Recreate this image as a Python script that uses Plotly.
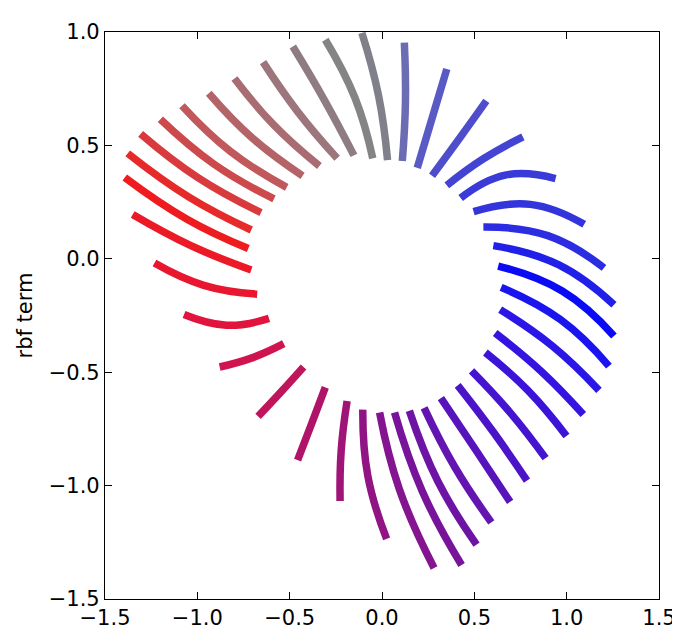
import plotly.graph_objects as go

# Each curved stroke: outer end, middle point, inner end (data units)
outer_x = [-1.072, -1.232, -1.350, -1.393, -1.377, -1.307, -1.200, -1.083, -0.938, -0.799, -0.644, -0.483,
           -0.307, -0.109, 0.121, 0.351, 0.565,
           0.763, 0.940, 1.095, 1.202, 1.256, 1.256, 1.229, 1.175, 1.090, 0.999, 0.886, 0.785, 0.694,
           0.592, 0.512, 0.431, 0.282, 0.025, -0.227, -0.457, -0.671, -0.879]
outer_y = [-0.246, -0.019, 0.195, 0.358, 0.465, 0.551, 0.615, 0.675, 0.730, 0.795, 0.867, 0.936,
           0.966, 0.996, 0.953, 0.837, 0.696,
           0.538, 0.354, 0.152, -0.040, -0.203, -0.340, -0.473, -0.580, -0.687, -0.781, -0.879, -0.978, -1.072,
           -1.162, -1.260, -1.350, -1.363, -1.235, -1.068, -0.888, -0.695, -0.477]
mid_x = [-0.842, -0.965, -1.035, -1.056, -1.045, -0.997, -0.911, -0.820, -0.703, -0.585, -0.457, -0.312,
         -0.146, -0.018, 0.127, 0.271, 0.426,
         0.549, 0.667, 0.804, 0.898, 0.958, 0.976, 0.966, 0.925, 0.863, 0.790, 0.694, 0.603, 0.506,
         0.394, 0.303, 0.218, 0.094, -0.077, -0.221, -0.382, -0.548, -0.708]
mid_y = [-0.293, -0.117, 0.058, 0.174, 0.272, 0.358, 0.418, 0.473, 0.533, 0.589, 0.649, 0.700,
         0.709, 0.717, 0.692, 0.619, 0.538,
         0.441, 0.369, 0.240, 0.102, -0.027, -0.142, -0.268, -0.386, -0.497, -0.580, -0.678, -0.764, -0.841,
         -0.918, -0.982, -1.025, -1.016, -0.956, -0.845, -0.729, -0.588, -0.438]
inner_x = [-0.612, -0.676, -0.708, -0.724, -0.708, -0.655, -0.585, -0.516, -0.430, -0.339, -0.243, -0.152,
           -0.050, 0.030, 0.110, 0.191, 0.271,
           0.351, 0.426, 0.496, 0.549, 0.603, 0.629, 0.645, 0.640, 0.613, 0.560, 0.485, 0.410, 0.319,
           0.228, 0.148, 0.068, -0.013, -0.104, -0.189, -0.307, -0.425, -0.532]
inner_y = [-0.263, -0.156, -0.049, 0.045, 0.127, 0.204, 0.264, 0.315, 0.366, 0.409, 0.443, 0.456,
           0.443, 0.435, 0.431, 0.401, 0.366,
           0.324, 0.268, 0.208, 0.140, 0.058, -0.032, -0.126, -0.224, -0.327, -0.413, -0.494, -0.558, -0.614,
           -0.657, -0.670, -0.678, -0.678, -0.665, -0.627, -0.567, -0.477, -0.374]
colors = ["#e0143c", "#e8162e", "#ec1a26", "#ee1c1e", "#e62a2a", "#d83a3e", "#cc4a4c", "#c0585c",
          "#b46468", "#a86c72", "#9c767c", "#8e7c82",
          "#848484", "#80808a", "#6c6cb4", "#5a5ac4", "#4e4ecc",
          "#4444d4", "#3a3ad8", "#3434dc", "#2c2ce2", "#2020e8", "#0a0af4", "#1a14ee", "#2a16e6",
          "#3414e0", "#3c14d8", "#4414d0", "#4c14c8", "#5814bc", "#6414b0", "#6e14a4", "#78149a",
          "#841490", "#901484", "#a01478", "#b01468", "#c0145c", "#d01450"]

x_ticks = [-1.5, -1.0, -0.5, 0.0, 0.5, 1.0, 1.5]
x_labels = ["\u22121.5", "\u22121.0", "\u22120.5", "0.0", "0.5", "1.0", "1.5"]
y_ticks = [-1.5, -1.0, -0.5, 0.0, 0.5, 1.0]
y_labels = ["\u22121.5", "\u22121.0", "\u22120.5", "0.0", "0.5", "1.0"]

fig = go.Figure()
for i in range(len(colors)):
    fig.add_trace(go.Scatter(
        x=[outer_x[i], mid_x[i], inner_x[i]],
        y=[outer_y[i], mid_y[i], inner_y[i]],
        mode="lines",
        line=dict(color=colors[i], width=7.5, shape="spline", smoothing=1.3),
        showlegend=False, hoverinfo="skip"))

axis_common = dict(showline=True, linecolor="black", linewidth=1.2, mirror="allticks",
                   ticks="inside", ticklen=7, tickwidth=1, tickcolor="black",
                   showgrid=False, zeroline=False,
                   tickfont=dict(family="DejaVu Sans", size=21, color="black"))

fig.update_layout(
    width=680, height=634,
    margin=dict(l=97, r=22, t=22, b=28),
    paper_bgcolor="white", plot_bgcolor="white",
    xaxis=dict(range=[-1.5, 1.5], tickvals=x_ticks, ticktext=x_labels, **axis_common),
    yaxis=dict(range=[-1.5, 1.0], tickvals=y_ticks, ticktext=y_labels,
               title=dict(text="rbf term", font=dict(family="DejaVu Sans", size=21, color="black"),
                          standoff=10),
               **axis_common),
)

fig.write_html("out.html")
